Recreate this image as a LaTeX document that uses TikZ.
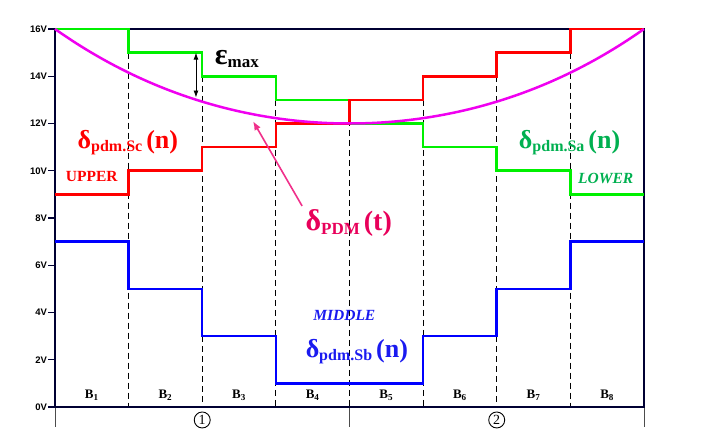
\documentclass[tikz,border=0pt]{standalone}
\usepackage{fontspec}
\setmainfont{Liberation Serif}
\newfontfamily\axisfont{Liberation Sans}
\usetikzlibrary{arrows.meta}
\definecolor{framenavy}{HTML}{000033}
\definecolor{lineGreen}{HTML}{00F000}
\definecolor{textGreen}{HTML}{00B050}
\definecolor{lineRed}{HTML}{FF0000}
\definecolor{lineBlue}{HTML}{0000FF}
\definecolor{textBlue}{HTML}{1A1AF0}
\definecolor{pdmMagenta}{HTML}{F000F0}
\definecolor{pdmPink}{HTML}{F0308A}
\definecolor{pdmText}{HTML}{E8005A}
\newcommand{\pdmlabel}[2]{{\fontsize{26}{26}\selectfont δ}\raisebox{-3pt}{\fontsize{16}{16}\selectfont #1}\hspace{4pt}{\fontsize{26}{26}\selectfont(#2)}}
\tikzset{
    frameline/.style={draw=framenavy,line width=2.6pt},
    blockline/.style={draw=black,line width=1pt,dash pattern=on 6pt off 4pt},
    saline/.style={draw=lineGreen,line width=2.5pt},
    scline/.style={draw=lineRed,line width=2.5pt},
    sbline/.style={draw=lineBlue,line width=2.5pt},
    pdmcurve/.style={draw=pdmMagenta,line width=2.5pt},
    ticklabel/.style={anchor=east,inner sep=0pt,font=\axisfont\bfseries\fontsize{9.5}{10}\selectfont},
    blocklabel/.style={font=\bfseries\fontsize{13}{13}\selectfont},
    circnum/.style={circle,draw,line width=0.9pt,minimum size=16pt,inner sep=0pt,font=\fontsize{14}{14}\selectfont},
    levellabel/.style={font=\bfseries},
    zonelabel/.style={font=\bfseries\fontsize{15.5}{16}\selectfont}
}

\begin{document}
\begin{tikzpicture}[x=73.625pt,y=23.625pt]
    \useasboundingbox (-0.747,-1.312) rectangle (8.829,17.228);

    % block borders
    \foreach \x/\top in {1/15,2/14,3/13,4/13,5/13,6/14,7/15}
        \draw[blockline] (\x,\top) -- (\x,0);
    \foreach \x in {0,4,8}
        \draw[gray!60!black,line width=0.8pt] (\x,0) -- (\x,-0.85);

    % frame and axis
    \draw[frameline] (0,0) rectangle (8,16);
    \foreach \v in {0,2,...,16} {
        \draw[frameline,line width=1.4pt] (-0.095,\v) -- (0,\v);
        \node[ticklabel] (t\v) at (-0.105,\v) {\v V};
    }

    % levels
    \draw[saline] (0,16) \foreach \i in {1,...,7} { -| (\i,16-\i) } -- (8,9);
    \draw[scline] (0,9) \foreach \i in {1,...,7} { -| (\i,9+\i) } -- (8,16);
    \draw[sbline] (0,7) -| (1,5) -| (2,3) -| (3,1) -| (5,3) -| (6,5) -| (7,7) -- (8,7);
    \draw[pdmcurve] plot[domain=0:8,samples=90,smooth] (\x,{12+4*(0.9*((\x-4)/4)^2+0.1*((\x-4)/4)^4)});

    % eps max
    \coordinate (emaxtop) at (1.915,15);
    \coordinate (emaxbot) at (1.915,13.1);
    \draw[{Latex[length=7pt,width=5pt]}-{Latex[length=7pt,width=5pt]},line width=0.9pt] (emaxtop) -- (emaxbot);
    \node[levellabel] (emax) at (2.47,14.72) {{\fontsize{30}{30}\selectfont ε}\raisebox{-3pt}{\fontsize{17}{17}\selectfont max}};

    % labels
    \node[levellabel,lineRed] (sc) at (0.99,11.17) {\pdmlabel{pdm.Sc}{n}};
    \node[zonelabel,lineRed] (upper) at (0.5,9.74) {UPPER};
    \node[levellabel,textGreen] (sa) at (6.99,11.17) {\pdmlabel{pdm.Sa}{n}};
    \node[zonelabel,textGreen] (lower) at (7.48,9.69) {\itshape LOWER};
    \node[zonelabel,textBlue] (middle) at (3.93,3.89) {\itshape MIDDLE};
    \node[levellabel,textBlue] (sb) at (4.10,2.33) {\pdmlabel{pdm.Sb}{n}};
    \node[levellabel,pdmText] (pdm) at (3.99,7.79) {{\fontsize{30}{30}\selectfont δ}\raisebox{-4pt}{\fontsize{17}{17}\selectfont PDM}\hspace{4pt}{\fontsize{28}{28}\selectfont(t)}};
    \coordinate (pdmtip) at (2.69,12.1);
    \draw[-{Latex[length=9pt,width=7pt]},pdmPink,line width=1.6pt] (pdm.north west) -- (pdmtip);

    % blocks
    \foreach \i in {1,...,8}
        \node[blocklabel] (b\i) at (\i-0.5,0.5) {B\textsubscript{\i}};
    \node[circnum] (c1) at (2,-0.55) {1};
    \node[circnum] (c2) at (6,-0.55) {2};
\end{tikzpicture}
\end{document}
